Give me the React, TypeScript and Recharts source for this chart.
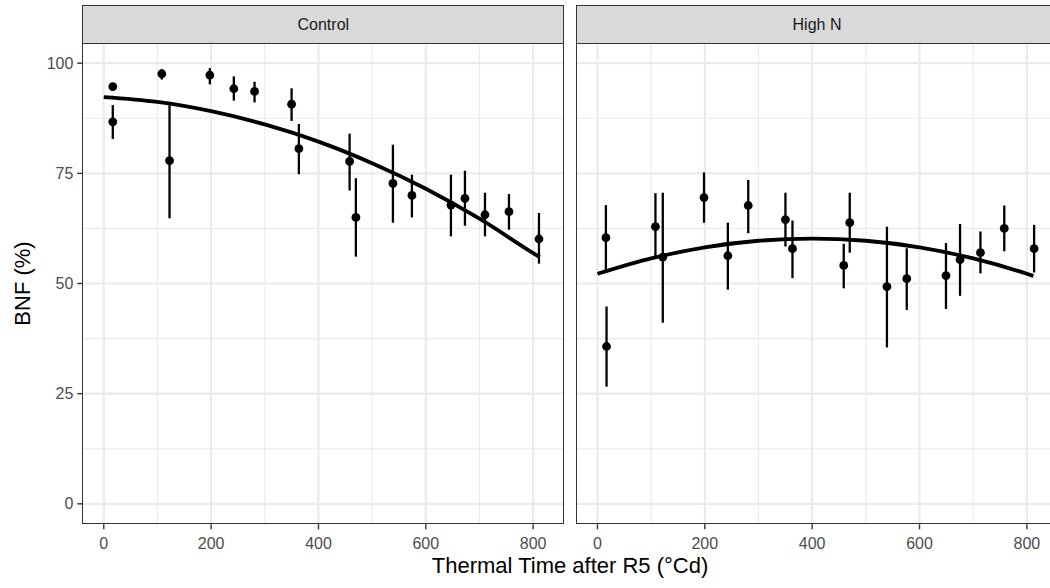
import React from 'react';
import { ComposedChart, Scatter, Line, ErrorBar, XAxis, YAxis, CartesianGrid } from 'recharts';

// Thermal time (°Cd) and BNF (%) with lower/upper error limits
const controlTT = [16.8, 16.8, 108.1, 122.5, 197.6, 242.3, 280.9, 349.9, 363.5, 458.0, 469.7, 538.7, 574.1, 646.8, 672.9, 710.2, 754.9, 810.8];
const controlBNF = [94.7, 86.7, 97.6, 77.9, 97.3, 94.2, 93.6, 90.7, 80.6, 77.7, 65.0, 72.7, 70.0, 67.8, 69.3, 65.6, 66.3, 60.1];
const controlLo = [94.2, 82.8, 96.3, 64.8, 95.2, 91.5, 91.1, 86.9, 74.8, 71.1, 56.1, 63.8, 65.0, 60.7, 63.1, 60.7, 62.2, 54.5];
const controlHi = [95.2, 90.5, 98.6, 90.5, 98.9, 97.0, 95.8, 94.3, 86.2, 84.0, 73.9, 81.5, 74.7, 74.7, 75.6, 70.6, 70.3, 66.0];

const highNTT = [15.7, 16.9, 108.0, 121.7, 198.5, 242.9, 280.9, 350.2, 363.3, 458.8, 470.0, 539.3, 576.2, 649.3, 675.5, 713.5, 757.9, 813.5];
const highNBNF = [60.4, 35.7, 62.9, 56.0, 69.5, 56.3, 67.7, 64.5, 57.9, 54.1, 63.8, 49.3, 51.1, 51.8, 55.4, 57.0, 62.5, 57.9];
const highNLo = [53.1, 26.6, 56.1, 41.1, 63.8, 48.6, 61.4, 58.4, 51.2, 48.9, 57.0, 35.5, 44.0, 44.2, 47.2, 52.3, 57.3, 52.5];
const highNHi = [67.8, 44.8, 70.5, 70.6, 75.2, 63.8, 73.5, 70.6, 64.3, 59.0, 70.6, 62.9, 58.0, 59.2, 63.5, 61.8, 67.7, 63.3];

// fitted curves, sampled off the figure
const curveTT = [0, 100, 200, 300, 400, 500, 600, 700, 800, 812];
const controlFit = [92.3, 91.2, 89.1, 86.1, 82.2, 77.3, 71.5, 64.7, 56.9, 56.0];
const highNFit = [52.2, 55.7, 58.2, 59.7, 60.2, 59.7, 58.2, 55.7, 52.2, 51.7];

const xTicks = [0, 200, 400, 600, 800];
const xMinor = [100, 300, 500, 700];
const yTicks = [0, 25, 50, 75, 100];
const yMinor = [12.5, 37.5, 62.5, 87.5];

const facets = ['Control', 'High N'];

const FONT = '"Liberation Sans", Arial, Helvetica, sans-serif';
const X_DOMAIN: [number, number] = [-40, 858];
const Y_DOMAIN: [number, number] = [-4.65, 104.65];

const PANEL_TOP = 42.7;
const PANEL_H = 481.6;
const PANEL_W = 482;
const STRIP_TOP = 5;

const toPoints = (tt: number[], bnf: number[], lo: number[], hi: number[]) =>
  tt.map((t, i) => ({ tt: t, bnf: bnf[i], err: [bnf[i] - lo[i], hi[i] - bnf[i]] }));

const toCurve = (fit: number[]) => curveTT.map((t, i) => ({ tt: t, bnf: fit[i] }));

const dot = (p: any) => <circle cx={p.cx} cy={p.cy} r={4.4} fill="#000" />;

interface FacetProps {
  left: number;
  showY: boolean;
  points: { tt: number; bnf: number; err: number[] }[];
  curve: { tt: number; bnf: number }[];
}

const Facet = ({ left, showY, points, curve }: FacetProps) => {
  const yWidth = showY ? 82.3 : 0;
  const chartLeft = left - yWidth;
  const width = yWidth + PANEL_W + 6;
  return (
    <div style={{ position: 'absolute', left: chartLeft, top: 0 }}>
      <ComposedChart
        width={width}
        height={588}
        margin={{ top: PANEL_TOP, right: 6, bottom: 588 - PANEL_TOP - PANEL_H - 30, left: 0 }}
      >
        <CartesianGrid
          stroke="#EBEBEB"
          strokeWidth={1.1}
          horizontalValues={yMinor}
          verticalValues={xMinor}
        />
        <CartesianGrid
          stroke="#EBEBEB"
          strokeWidth={2.2}
          horizontalValues={yTicks}
          verticalValues={xTicks}
        />
        <XAxis
          dataKey="tt"
          type="number"
          domain={X_DOMAIN}
          ticks={xTicks}
          allowDataOverflow
          height={30}
          axisLine={false}
          tickSize={5}
          tickMargin={8}
          tickLine={{ stroke: '#333333', strokeWidth: 1.4 }}
          tick={{ fill: '#4D4D4D', fontSize: 16, fontFamily: FONT }}
        />
        <YAxis
          type="number"
          domain={Y_DOMAIN}
          ticks={yTicks}
          allowDataOverflow
          hide={!showY}
          width={yWidth}
          axisLine={false}
          tickSize={5}
          tickMargin={4}
          tickLine={{ stroke: '#333333', strokeWidth: 1.4 }}
          tick={{ fill: '#4D4D4D', fontSize: 16, fontFamily: FONT }}
        />
        <Scatter data={points} dataKey="bnf" shape={dot} isAnimationActive={false}>
          <ErrorBar dataKey="err" direction="y" width={0} stroke="#000" strokeWidth={2.3} />
        </Scatter>
        <Line
          data={curve}
          dataKey="bnf"
          type="monotone"
          dot={false}
          activeDot={false}
          stroke="#000"
          strokeWidth={3.8}
          isAnimationActive={false}
        />
      </ComposedChart>
    </div>
  );
};

const panelLefts = [82.3, 576];

export default function App() {
  const data = [
    { points: toPoints(controlTT, controlBNF, controlLo, controlHi), curve: toCurve(controlFit) },
    { points: toPoints(highNTT, highNBNF, highNLo, highNHi), curve: toCurve(highNFit) },
  ];

  return (
    <div
      style={{
        position: 'absolute',
        left: 0,
        top: 0,
        width: 1050,
        height: 588,
        overflow: 'hidden',
        background: '#fff',
        fontFamily: FONT,
      }}
    >
      {facets.map((name, i) => (
        <Facet key={name} left={panelLefts[i]} showY={i === 0} points={data[i].points} curve={data[i].curve} />
      ))}

      {/* panel borders and strips */}
      {facets.map((name, i) => (
        <React.Fragment key={`deco-${name}`}>
          <div
            style={{
              position: 'absolute',
              left: panelLefts[i],
              top: PANEL_TOP,
              width: PANEL_W,
              height: PANEL_H,
              border: '1.4px solid #333333',
              boxSizing: 'border-box',
              pointerEvents: 'none',
            }}
          />
          <div
            style={{
              position: 'absolute',
              left: panelLefts[i],
              top: STRIP_TOP,
              width: PANEL_W,
              height: PANEL_TOP - STRIP_TOP + 1.4,
              background: '#D9D9D9',
              border: '1.4px solid #333333',
              boxSizing: 'border-box',
              display: 'flex',
              alignItems: 'center',
              justifyContent: 'center',
              fontSize: 16,
              color: '#1A1A1A',
            }}
          >
            {name}
          </div>
        </React.Fragment>
      ))}

      <svg width={1050} height={588} style={{ position: 'absolute', left: 0, top: 0, pointerEvents: 'none' }}>
        <text x={570} y={573} textAnchor="middle" fontSize={22} fontFamily={FONT} fill="#000">
          Thermal Time after R5 (°Cd)
        </text>
        <text
          x={29.5}
          y={283.5}
          transform="rotate(-90 29.5 283.5)"
          textAnchor="middle"
          fontSize={22}
          fontFamily={FONT}
          fill="#000"
        >
          BNF (%)
        </text>
      </svg>
    </div>
  );
}
